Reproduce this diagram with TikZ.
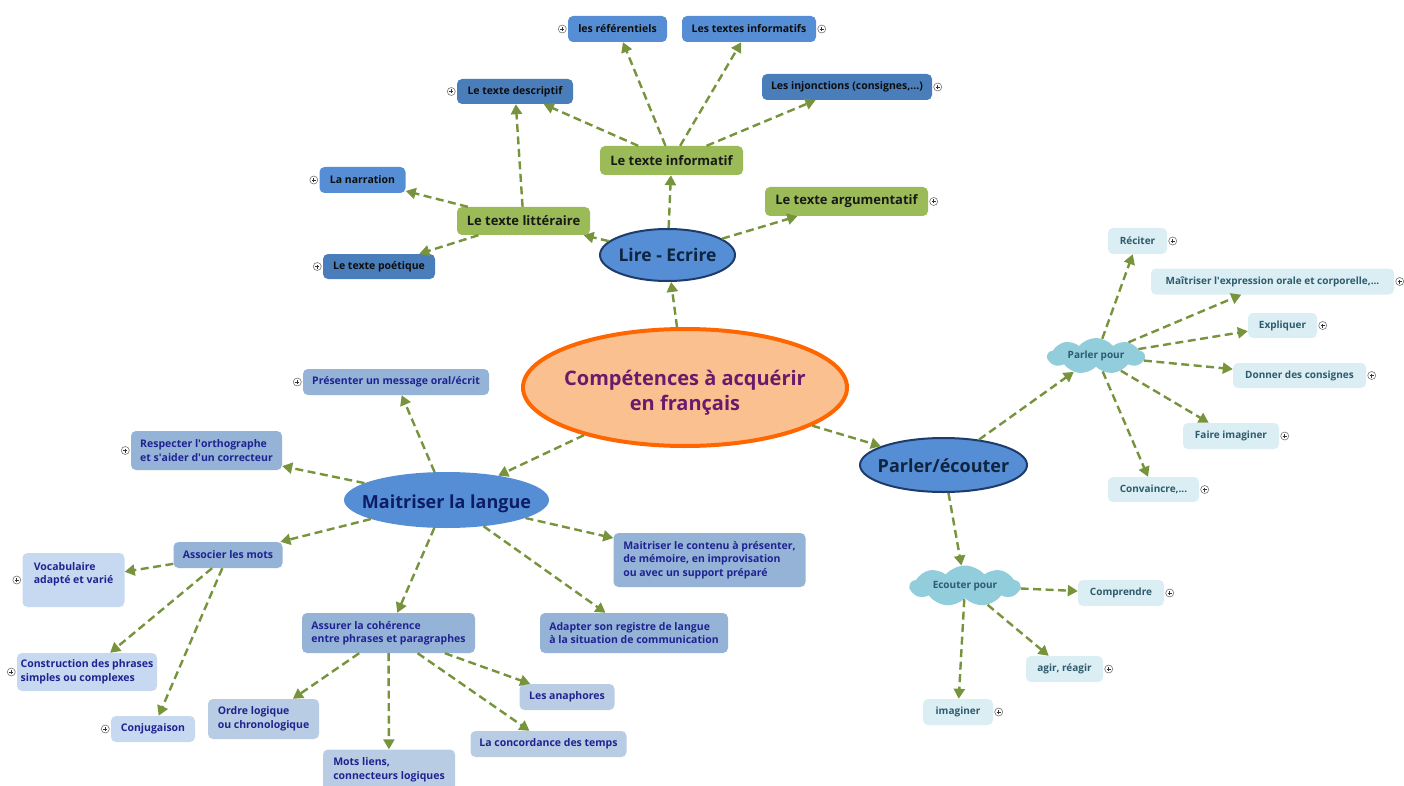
\documentclass[tikz,border=0pt]{standalone}
\usepackage{fontspec}
\setmainfont{Open Sans}
\usetikzlibrary{arrows.meta,shapes.geometric,shapes.symbols}
\definecolor{arrgreen}{HTML}{77933C}
\definecolor{greenbox}{HTML}{9BBB59}
\definecolor{blueL}{HTML}{558ED5}
\definecolor{blueD}{HTML}{4A7EBB}
\definecolor{ellblue}{HTML}{558ED5}
\definecolor{ellborder}{HTML}{1F3B6B}
\definecolor{elltext}{HTML}{0F243E}
\definecolor{centerfill}{HTML}{FAC090}
\definecolor{centerborder}{HTML}{FF6600}
\definecolor{centertext}{HTML}{6B1A6B}
\definecolor{midbox}{HTML}{95B3D7}
\definecolor{lightbox}{HTML}{C6D9F1}
\definecolor{lightboxB}{HTML}{B8CCE4}
\definecolor{navytext}{HTML}{1F2391}
\definecolor{palebox}{HTML}{DAEEF3}
\definecolor{tealtext}{HTML}{2E5A6E}
\definecolor{cloudfill}{HTML}{92CDDC}
\newcommand{\zw}[2]{\makebox[0pt]{\raisebox{-#1pt}[\height][\depth]{\begin{tabular}{@{}c@{}}#2\end{tabular}}}}
\newcommand{\apo}{\textquotesingle}
\tikzset{
  conn/.style={draw=arrgreen, line width=2.4pt, dash pattern=on 8pt off 4.5pt,
    -{Triangle[length=10pt,width=11pt,fill=arrgreen]}},
  basebox/.style={rectangle, rounded corners=5pt, inner sep=0pt, align=center},
  topbox/.style={basebox, text=black!95, font=\fontsize{10.5}{13}\selectfont\bfseries},
  lbA/.style={topbox, fill=blueL},
  dbA/.style={topbox, fill=blueD},
  grbox/.style={basebox, fill=greenbox, text=black!90, font=\fontsize{13}{16}\selectfont\bfseries},
  mlbox/.style={basebox, align=left, text=navytext, font=\fontsize{10.5}{13.5}\selectfont\bfseries},
  midB/.style={mlbox, fill=midbox},
  ltB/.style={mlbox, fill=lightbox},
  ltC/.style={mlbox, fill=lightboxB},
  pbox/.style={basebox, fill=palebox, text=tealtext, font=\fontsize{10}{12}\selectfont\bfseries},
  ellnode/.style={ellipse, inner sep=0pt, fill=ellblue, text=elltext},
  cloudnode/.style={cloud, cloud puffs=9, cloud puff arc=100, cloud ignores aspect,
    inner sep=0pt, fill=cloudfill, text=tealtext, font=\fontsize{10}{12}\selectfont\bfseries},
  plusicon/.style={circle, draw=black!55, line width=0.6pt, fill=white, minimum size=8pt,
    inner sep=0pt, path picture={\draw[line width=0.7pt, black!80]
      ([xshift=-2pt]path picture bounding box.center) -- ([xshift=2pt]path picture bounding box.center)
      ([yshift=-2pt]path picture bounding box.center) -- ([yshift=2pt]path picture bounding box.center);}},
}
\begin{document}
\begin{tikzpicture}[x=1pt,y=-1pt]
\useasboundingbox[fill=white] (0,0) rectangle (1404,786);

% ---- main ellipses
\node[ellipse, fill=centerfill, draw=centerborder, line width=4pt, inner sep=0pt,
  minimum width=324, minimum height=117, text=centertext,
  font=\fontsize{20}{25}\selectfont\bfseries] (center) at (685,387.5)
  {\zw{5.5}{Compétences à acquérir\\en français}};
\node[ellnode, draw=ellborder, line width=2pt, minimum width=135, minimum height=52,
  font=\fontsize{17.5}{20}\selectfont\bfseries] (lire) at (667.5,255) {\zw{3}{Lire - Ecrire}};
\node[ellnode, draw=ellborder, line width=2pt, minimum width=167, minimum height=54,
  font=\fontsize{18}{20}\selectfont\bfseries] (parler) at (943.5,465) {\zw{3.5}{Parler/écouter}};
\node[ellnode, minimum width=205, minimum height=56, text=elltext!80!blue,
  font=\fontsize{18}{20}\selectfont\bfseries] (maitr) at (446.5,500) {\zw{4.5}{Maitriser la langue}};

% ---- Lire - Ecrire branch
\node[grbox, minimum width=143, minimum height=29] (info) at (671.5,160.5) {Le texte informatif};
\node[grbox, minimum width=133, minimum height=28] (litt) at (523.5,221) {Le texte littéraire};
\node[grbox, minimum width=163, minimum height=29] (argu) at (846.5,201.5) {Le texte argumentatif};
\node[lbA, minimum width=99, minimum height=26] (ref) at (617.5,29) {les référentiels};
\node[lbA, minimum width=134, minimum height=26] (txtinf) at (749,29) {Les textes informatifs};
\node[dbA, minimum width=116, minimum height=25] (desc) at (515,91.5) {Le texte descriptif};
\node[dbA, minimum width=170, minimum height=26] (inj) at (847,87) {Les injonctions (consignes,...)};
\node[lbA, minimum width=86, minimum height=26] (narr) at (362.5,180) {La narration};
\node[dbA, minimum width=112, minimum height=25] (poet) at (379,266.5) {Le texte poétique};

% ---- Maitriser la langue branch
\node[midB, minimum width=186, minimum height=26] (pres) at (396,382) {Présenter un message oral/écrit};
\node[midB, minimum width=151, minimum height=39] (resp) at (206.5,450.5) {Respecter l\apo orthographe\\et s\apo aider d\apo un correcteur};
\node[midB, minimum width=109, minimum height=26] (assoc) at (228,555) {Associer les mots};
\node[ltB, minimum width=102, minimum height=54] (vocab) at (73.5,580) {Vocabulaire\\adapté et varié\\~};
\node[ltB, minimum width=140, minimum height=38] (constr) at (87,672) {Construction des phrases\\simples ou complexes};
\node[ltB, minimum width=84, minimum height=26] (conj) at (153,729) {Conjugaison};
\node[midB, minimum width=173, minimum height=40] (assur) at (388.5,633) {Assurer la cohérence\\entre phrases et paragraphes};
\node[midB, minimum width=192, minimum height=54] (cont) at (709.5,560) {Maitriser le contenu à présenter,\\de mémoire, en improvisation\\ou avec un support préparé};
\node[midB, minimum width=188, minimum height=40] (adapt) at (634,633) {Adapter son registre de langue\\à la situation de communication};
\node[ltC, minimum width=111, minimum height=40] (ordre) at (263.5,719) {Ordre logique\\ou chronologique};
\node[ltC, minimum width=132, minimum height=41] (mots) at (389,770) {Mots liens,\\connecteurs logiques};
\node[ltC, minimum width=95, minimum height=26] (anaph) at (567,697) {Les anaphores};
\node[ltC, minimum width=156, minimum height=26] (concord) at (548.5,744) {La concordance des temps};

% ---- Parler / écouter branch
\node[cloudnode, minimum width=97, minimum height=36] (ppour) at (1096,356) {Parler pour};
\node[cloudnode, minimum width=110, minimum height=41] (epour) at (965,586) {Ecouter pour};
\node[pbox, minimum width=59, minimum height=26] (recit) at (1137.5,241) {Réciter};
\node[pbox, minimum width=243, minimum height=26] (mexpr) at (1272.5,281.5) {Maîtriser l\apo expression orale et corporelle,...};
\node[pbox, minimum width=69, minimum height=25] (expl) at (1282.5,325.5) {Expliquer};
\node[pbox, minimum width=133, minimum height=25] (donner) at (1299.5,375.5) {Donner des consignes};
\node[pbox, minimum width=96, minimum height=26] (faire) at (1231,436) {Faire imaginer};
\node[pbox, minimum width=91, minimum height=25] (conv) at (1153.5,489.5) {Convaincre,...};
\node[pbox, minimum width=86, minimum height=26] (compr) at (1121,593) {Comprendre};
\node[pbox, minimum width=77, minimum height=26] (agir) at (1064.5,669) {agir, réagir};
\node[pbox, minimum width=70, minimum height=26] (imag) at (958,712) {imaginer};

% ---- connectors
\draw[conn] (center) -- (lire);
\draw[conn] (center) -- (maitr);
\draw[conn] (center) -- (parler);
\draw[conn] (lire) -- (litt);
\draw[conn] (lire) -- (info);
\draw[conn] (lire) -- (argu);
\draw[conn] (litt) -- (narr);
\draw[conn] (litt) -- (poet);
\draw[conn] (litt) -- (desc);
\draw[conn] (info) -- (desc);
\draw[conn] (info) -- (ref);
\draw[conn] (info) -- (txtinf);
\draw[conn] (info) -- (inj);
\draw[conn] (maitr) -- (pres);
\draw[conn] (maitr) -- (resp);
\draw[conn] (maitr) -- (assoc);
\draw[conn] (maitr) -- (assur);
\draw[conn] (maitr) -- (adapt);
\draw[conn] (maitr) -- (cont);
\draw[conn] (assoc) -- (vocab);
\draw[conn] (assoc) -- (constr);
\draw[conn] (assoc) -- (conj);
\draw[conn] (assur) -- (ordre);
\draw[conn] (assur) -- (mots);
\draw[conn] (assur) -- (anaph);
\draw[conn] (assur) -- (concord);
\draw[conn] (parler) -- (ppour);
\draw[conn] (parler) -- (epour);
\draw[conn] (ppour) -- (recit);
\draw[conn] (ppour) -- (mexpr);
\draw[conn] (ppour) -- (expl);
\draw[conn] (ppour) -- (donner);
\draw[conn] (ppour) -- (faire);
\draw[conn] (ppour) -- (conv);
\draw[conn] (epour) -- (compr);
\draw[conn] (epour) -- (agir);
\draw[conn] (epour) -- (imag);

% ---- expand icons
\node[plusicon] (p1) at ([xshift=-5.5pt]ref.west) {};
\node[plusicon] (p2) at ([xshift=5.5pt]txtinf.east) {};
\node[plusicon] (p3) at ([xshift=-5.5pt]desc.west) {};
\node[plusicon] (p4) at ([xshift=5.5pt]inj.east) {};
\node[plusicon] (p5) at ([xshift=-5.5pt]narr.west) {};
\node[plusicon] (p6) at ([xshift=-5.5pt]poet.west) {};
\node[plusicon] (p7) at ([xshift=5.5pt]argu.east) {};
\node[plusicon] (p8) at ([xshift=-5.5pt]pres.west) {};
\node[plusicon] (p9) at ([xshift=-5.5pt]resp.west) {};
\node[plusicon] (p10) at ([xshift=-5.5pt]vocab.west) {};
\node[plusicon] (p11) at ([xshift=-5.5pt]constr.west) {};
\node[plusicon] (p12) at ([xshift=-5.5pt]conj.west) {};
\node[plusicon] (p13) at ([xshift=5.5pt]recit.east) {};
\node[plusicon] (p14) at ([xshift=5.5pt]mexpr.east) {};
\node[plusicon] (p15) at ([xshift=5.5pt]expl.east) {};
\node[plusicon] (p16) at ([xshift=5.5pt]donner.east) {};
\node[plusicon] (p17) at ([xshift=5.5pt]faire.east) {};
\node[plusicon] (p18) at ([xshift=5.5pt]conv.east) {};
\node[plusicon] (p19) at ([xshift=5.5pt]compr.east) {};
\node[plusicon] (p20) at ([xshift=5.5pt]agir.east) {};
\node[plusicon] (p21) at ([xshift=5.5pt]imag.east) {};
\end{tikzpicture}
\end{document}
